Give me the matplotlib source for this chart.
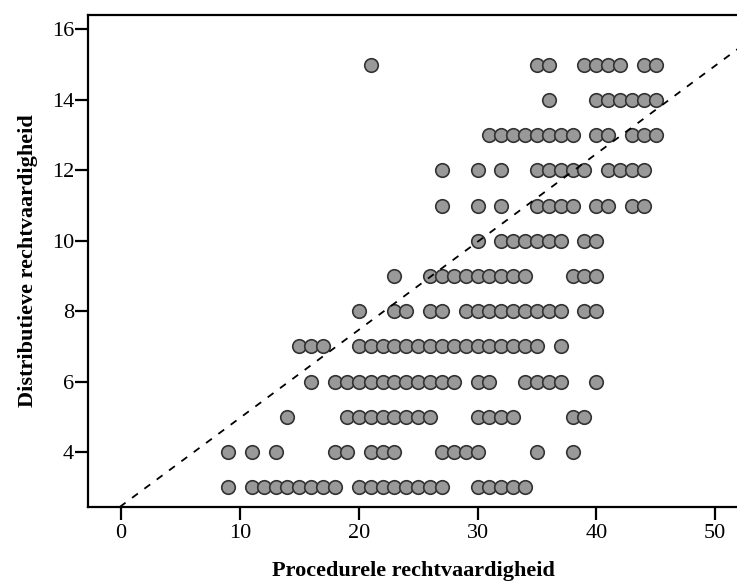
import numpy as np
import matplotlib
matplotlib.use("Agg")
import matplotlib.pyplot as plt

plt.rcParams['font.family'] = ['Liberation Serif', 'DejaVu Serif']

# x values (Procedurele rechtvaardigheid) observed at each y level
x_at_3 = [9, 11, 12, 13, 14, 15, 16, 17, 18, 20, 21, 22, 23, 24, 25, 26, 27, 30, 31, 32, 33, 34]
x_at_4 = [9, 11, 13, 18, 19, 21, 22, 23, 27, 28, 29, 30, 35, 38]
x_at_5 = [14, 19, 20, 21, 22, 23, 24, 25, 26, 30, 31, 32, 33, 38, 39]
x_at_6 = [16, 18, 19, 20, 21, 22, 23, 24, 25, 26, 27, 28, 30, 31, 34, 35, 36, 37, 40]
x_at_7 = [15, 16, 17, 20, 21, 22, 23, 24, 25, 26, 27, 28, 29, 30, 31, 32, 33, 34, 35, 37]
x_at_8 = [20, 23, 24, 26, 27, 29, 30, 31, 32, 33, 34, 35, 36, 37, 39, 40]
x_at_9 = [23, 26, 27, 28, 29, 30, 31, 32, 33, 34, 38, 39, 40]
x_at_10 = [30, 32, 33, 34, 35, 36, 37, 39, 40]
x_at_11 = [27, 30, 32, 35, 36, 37, 38, 40, 41, 43, 44]
x_at_12 = [27, 30, 32, 35, 36, 37, 38, 39, 41, 42, 43, 44]
x_at_13 = [31, 32, 33, 34, 35, 36, 37, 38, 40, 41, 43, 44, 45]
x_at_14 = [36, 40, 41, 42, 43, 44, 45]
x_at_15 = [21, 35, 36, 39, 40, 41, 42, 44, 45]

y_levels = [3, 4, 5, 6, 7, 8, 9, 10, 11, 12, 13, 14, 15]
rows = [x_at_3, x_at_4, x_at_5, x_at_6, x_at_7, x_at_8, x_at_9,
        x_at_10, x_at_11, x_at_12, x_at_13, x_at_14, x_at_15]

# reference line
line_intercept = 2.47
line_slope = 0.25

x_ticks = [0, 10, 20, 30, 40, 50]
y_ticks = [4, 6, 8, 10, 12, 14, 16]

xs = np.concatenate([np.array(r, dtype=float) for r in rows])
ys = np.concatenate([np.full(len(r), y, dtype=float) for r, y in zip(rows, y_levels)])

fig = plt.figure(figsize=(7.37, 5.88), dpi=100)
ax = fig.add_axes([88/737, 1 - 507/588, 1 - 88/737 + 0.002, (507 - 15)/588])

ax.scatter(xs, ys, s=95, facecolor='#999999', edgecolor='#333333',
           linewidths=1.2, zorder=2)
ax.axline((0, line_intercept), slope=line_slope, color='black', lw=1.3,
          dashes=(4, 4.5), zorder=3)

ax.set_xlim(-2.79, 51.96)
ax.set_ylim(2.44, 16.41)
ax.set_xticks(x_ticks)
ax.set_yticks(y_ticks)

for s in ['left', 'bottom', 'top']:
    ax.spines[s].set_linewidth(1.6)
ax.spines['right'].set_visible(False)

ax.tick_params(axis='both', direction='out', length=9.5, width=1.6,
               labelsize=16)
ax.tick_params(axis='x', pad=3)
ax.tick_params(axis='y', pad=0.5)

ax.set_xlabel('Procedurele rechtvaardigheid', fontsize=16, fontweight='bold',
              labelpad=13)
ax.set_ylabel('Distributieve rechtvaardigheid', fontsize=16, fontweight='bold',
              labelpad=10)

fig.savefig('out.png', dpi=100)
